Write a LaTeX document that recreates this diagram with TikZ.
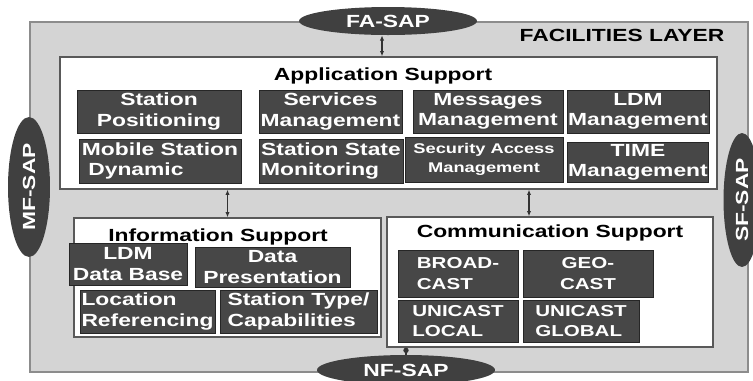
\documentclass[tikz,border=0pt]{standalone}
\usepackage{fontspec}
\setmainfont{Liberation Sans}[FakeStretch=1.3]
\usepackage{tikz}
\usetikzlibrary{shapes.geometric, arrows.meta, positioning}

\begin{document}
\begin{tikzpicture}[x=0.02cm, y=-0.02cm,
  every node/.style={font=\fontsize{10}{11.5}\selectfont\bfseries, inner sep=0.5pt},
  layer/.style={rectangle, draw=black!45, fill=black!17, line width=0.8pt},
  group/.style={rectangle, draw=black!65, fill=white, line width=0.8pt},
  func/.style={rectangle, draw=black!85, fill=black!72, text=white, align=center},
  cast/.style={func, align=left, font=\fontsize{9}{11.5}\selectfont\bfseries},
  sap/.style={ellipse, fill=black!75, text=white, inner sep=0pt},
  link/.style={{Latex[length=3pt,width=2.5pt]}-{Latex[length=3pt,width=2.5pt]}, draw=black!80, line width=0.6pt},
  dotlink/.style={{Circle[length=3pt]}-, draw=black!80, line width=0.6pt}]
\clip (0,0) rectangle (753,380);

% facilities layer
\node (facil) [layer, minimum width=14.36cm, minimum height=7cm] at (389,197) {};
\node (faclabel) at (622,35) {FACILITIES LAYER};

% application support
\node (app) [group, minimum width=13.14cm, minimum height=2.64cm] at (388.5,123) {};
\node (apptitle) at (383,76) {Application Support};
\node (stapos) [func, minimum width=3.28cm, minimum height=0.86cm] at (159,111.5) {Station\\Positioning};
\node (svcmgmt) [func, minimum width=2.86cm, minimum height=0.86cm] at (330.5,111.5) {Services\\Management};
\node (msgmgmt) [func, minimum width=3cm, minimum height=0.86cm] at (488,111.5) {Messages\\Management};
\node (ldmmgmt) [func, minimum width=2.84cm, minimum height=0.86cm] at (638,111.5) {LDM\\Management};
\node (mobdyn) [func, align=left, minimum width=3.24cm, minimum height=0.88cm] at (160,161) {Mobile Station\\\ Dynamic};
\node (stamon) [func, align=left, minimum width=2.88cm, minimum height=0.88cm] at (331,161) {Station State\\Monitoring};
\node (secacc) [func, font=\fontsize{8}{11}\selectfont\bfseries, minimum width=3.16cm, minimum height=0.9cm] at (484,159.5) {Security Access\\Management};
\node (timemgmt) [func, minimum width=2.8cm, minimum height=0.8cm] at (638,162) {TIME\\Management};

% information support
\node (info) [group, minimum width=6.14cm, minimum height=2.38cm] at (227.5,277.5) {};
\node (infotitle) at (218,237) {Information Support};
\node (ldmdb) [func, minimum width=2.36cm, minimum height=0.84cm] at (128,264) {LDM\\Data Base};
\node (datapres) [func, minimum width=3.1cm, minimum height=0.8cm] at (272.5,267) {Data\\Presentation};
\node (locref) [func, align=left, minimum width=2.7cm, minimum height=0.86cm] at (147.5,311.5) {Location\\Referencing};
\node (statype) [func, align=left, minimum width=3.14cm, minimum height=0.86cm] at (298.5,311.5) {Station Type/\\Capabilities};

% communication support
\node (comm) [group, minimum width=6.52cm, minimum height=2.6cm] at (550,282) {};
\node (commtitle) at (550,233) {Communication Support};
\node (bcast) [cast, minimum width=2.4cm, minimum height=0.94cm] at (458,273.5) {BROAD-\\CAST};
\node (gcast) [cast, align=center, minimum width=2.6cm, minimum height=0.94cm] at (588,273.5) {GEO-\\CAST};
\node (ulocal) [cast, minimum width=2.4cm, minimum height=0.84cm] at (458,321) {UNICAST\\LOCAL};
\node (uglobal) [cast, minimum width=2.32cm, minimum height=0.84cm] at (581,321) {UNICAST\\GLOBAL};

% service access points
\node (fasap) [sap, minimum width=3.56cm, minimum height=0.56cm] at (388,21) {FA-SAP};
\node (nfsap) [sap, minimum width=3.56cm, minimum height=0.6cm] at (406,370) {NF-SAP};
\node (mfsap) [sap, rotate=90, minimum width=2.8cm, minimum height=0.84cm] at (29,187) {MF-SAP};
\node (sfsap) [sap, rotate=90, minimum width=2.68cm, minimum height=0.74cm] at (742,200) {SF-SAP};

% links
\coordinate (commin) at ([xshift=-0.42cm]comm.north);
\draw[link] ([xshift=-0.12cm]fasap.south) -- ([xshift=-0.12cm]fasap.south |- app.north);
\draw[link] (info.north) -- (info.north |- app.south);
\draw[link] (commin) -- (commin |- app.south);
\draw[dotlink] (nfsap.north |- comm.south) -- (nfsap.north);
\end{tikzpicture}
\end{document}
